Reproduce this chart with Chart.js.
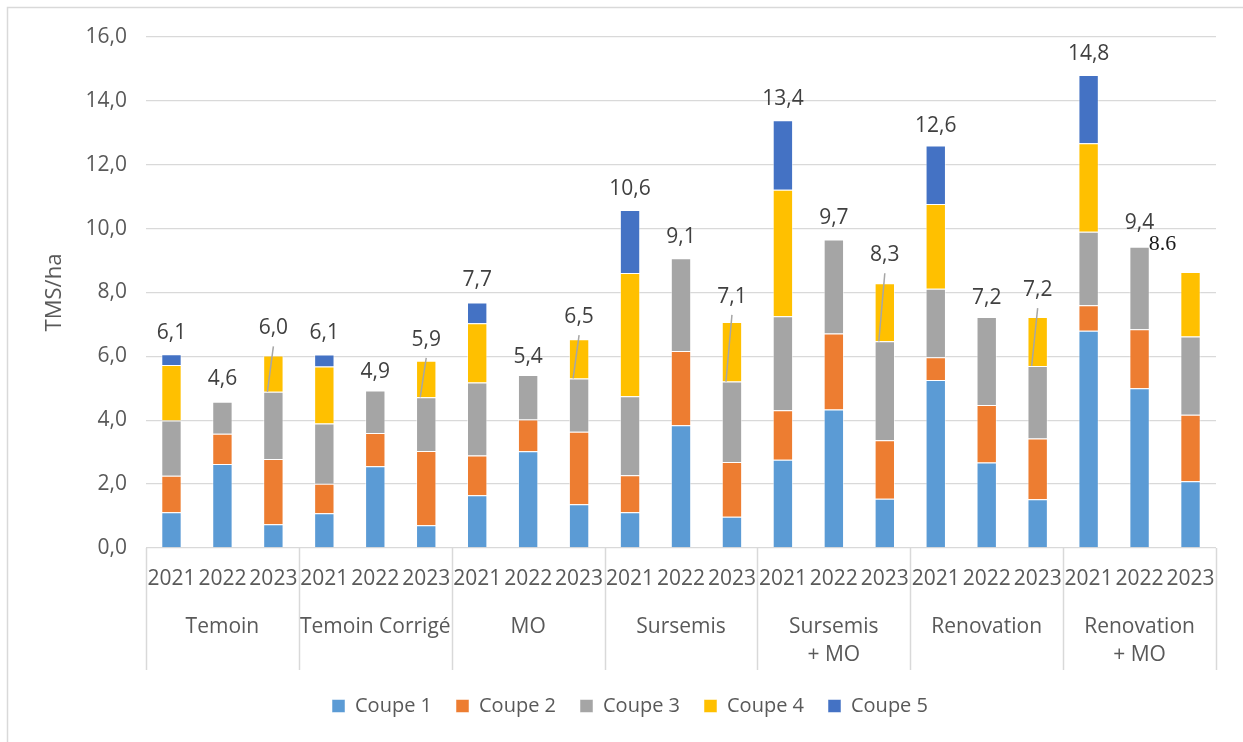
<!DOCTYPE html>
<html><head><meta charset="utf-8">
<script src="https://cdn.jsdelivr.net/npm/chart.js@4/dist/chart.umd.min.js"></script>
<style>html,body{margin:0;padding:0;background:#fff;}#wrap{width:1243px;height:742px;}</style>
</head><body><div id="wrap"><canvas id="c" width="1243" height="742"></canvas></div>
<script>
// ---- data ----
const groups = [['Temoin'], ['Temoin Corrigé'], ['MO'], ['Sursemis'], ['Sursemis', '+ MO'], ['Renovation'], ['Renovation', '+ MO']];
const years = ['2021', '2022', '2023'];
const seriesNames = ['Coupe 1', 'Coupe 2', 'Coupe 3', 'Coupe 4', 'Coupe 5'];
const coupe1 = [1.12, 2.63, 0.74, 1.09, 2.56, 0.71, 1.65, 3.03, 1.37, 1.12, 3.84, 0.98, 2.76, 4.34, 1.54, 5.26, 2.68, 1.53, 6.80, 5.00, 2.09];
const coupe2 = [1.14, 0.95, 2.05, 0.92, 1.04, 2.33, 1.25, 0.99, 2.27, 1.16, 2.33, 1.71, 1.55, 2.38, 1.83, 0.71, 1.80, 1.90, 0.80, 1.85, 2.08];
const coupe3 = [1.73, 1.00, 2.10, 1.89, 1.33, 1.68, 2.28, 1.40, 1.67, 2.47, 2.90, 2.52, 2.95, 2.94, 3.10, 2.15, 2.75, 2.27, 2.30, 2.58, 2.45];
const coupe4 = [1.74, null, 1.14, 1.78, null, 1.14, 1.86, null, 1.23, 3.86, null, 1.87, 3.96, null, 1.82, 2.65, null, 1.53, 2.77, null, 2.02];
const coupe5 = [0.34, null, null, 0.38, null, null, 0.65, null, null, 1.97, null, null, 2.17, null, null, 1.83, null, null, 2.14, null, null];
const yMin = 0, yMax = 16, yStep = 2;

// ---- label placement (layout, not data) ----
const labelLift = [21, 23, 27, 21, 19, 21, 22, 18, 22, 21, 21, 25, 21, 21, 28, 20, 19, 27, 21, 24, 28];
const leaderBars = [2, 5, 8, 11, 14, 17];
const serifLabelBar = 20;

const FONT = '"Open Sans", "Noto Sans", sans-serif';
const FS = 21;
const colors = ['#5B9BD5', '#ED7D31', '#A5A5A5', '#FFC000', '#4472C4'];
const seriesData = [coupe1, coupe2, coupe3, coupe4, coupe5];
const categories = [];
groups.forEach(() => years.forEach(y => categories.push(y)));

const datasets = seriesData.map((d, k) => ({
  label: seriesNames[k], data: d, backgroundColor: colors[k],
  borderColor: 'rgba(255,255,255,0.5)', borderWidth: 1,
  barPercentage: 0.4, categoryPercentage: 1
}));

const overlay = {
  id: 'overlay',
  beforeDraw(chart) {
    const c = chart.ctx; c.save();
    c.fillStyle = '#fff'; c.fillRect(0, 0, chart.width, chart.height);
    c.strokeStyle = '#d9d9d9'; c.lineWidth = 1.5;
    c.strokeRect(7.5, 7.5, chart.width + 20, chart.height + 20);
    c.restore();
  },
  afterLayout(chart) {
    chart.legend.left += 22; chart.legend.right += 22;
  },
  afterDraw(chart) {
    const c = chart.ctx, xs = chart.scales.x, ys = chart.scales.y, ca = chart.chartArea;
    const n = categories.length, slot = (xs.right - xs.left) / n;
    c.save();
    c.strokeStyle = '#d9d9d9'; c.lineWidth = 1.5;
    for (let g = 0; g <= groups.length; g++) {
      const x = Math.round(xs.left + g * years.length * slot) + 0.5;
      c.beginPath(); c.moveTo(x, ca.bottom); c.lineTo(x, ca.bottom + 122); c.stroke();
    }
    c.fillStyle = '#595959'; c.font = FS + 'px ' + FONT; c.textAlign = 'center'; c.textBaseline = 'middle';
    groups.forEach((lines, g) => {
      const cx = xs.left + (g * years.length + years.length / 2) * slot;
      lines.forEach((t, j) => c.fillText(t, cx, ca.bottom + 79 + j * 28));
    });
    const meta = chart.getDatasetMeta(0);
    for (let i = 0; i < n; i++) {
      let total = 0;
      seriesData.forEach(s => total += (s[i] || 0));
      const bx = meta.data[i].x;
      const ty = ys.getPixelForValue(total);
      const ly = ty - labelLift[i];
      if (leaderBars.includes(i)) {
        const c3 = (coupe1[i] || 0) + (coupe2[i] || 0) + (coupe3[i] || 0);
        c.strokeStyle = '#a6a6a6'; c.lineWidth = 1.5;
        c.beginPath(); c.moveTo(bx, ly + 18); c.lineTo(bx - 6, ys.getPixelForValue(c3)); c.stroke();
      }
      if (i === serifLabelBar) {
        c.font = '22px "Liberation Serif", "DejaVu Serif", serif'; c.fillStyle = '#1a1a1a';
        c.fillText(total.toFixed(1), bx - 28, ly);
      } else {
        c.font = FS + 'px ' + FONT; c.fillStyle = '#404040';
        c.fillText(total.toFixed(1).replace('.', ','), bx, ly);
      }
    }
    c.restore();
  }
};

new Chart(document.getElementById('c'), {
  type: 'bar',
  data: { labels: categories, datasets },
  plugins: [overlay],
  options: {
    responsive: false, animation: false, devicePixelRatio: 1,
    layout: { padding: { left: 0, right: 27, top: 37, bottom: 16 } },
    plugins: {
      legend: { position: 'bottom', labels: { font: { family: FONT, size: 20 }, color: '#595959', boxWidth: 13, boxHeight: 13, padding: 24 } },
      tooltip: { enabled: false }
    },
    scales: {
      x: {
        stacked: true, grid: { display: false, drawTicks: false }, border: { display: false },
        ticks: { font: { family: FONT, size: FS }, color: '#595959', padding: 18.4, autoSkip: false, maxRotation: 0 },
        afterFit(s) { s.height = 124; }
      },
      y: {
        stacked: true, min: yMin, max: yMax,
        ticks: { stepSize: yStep, font: { family: FONT, size: FS }, color: '#595959', padding: 19,
                 callback: v => Number(v).toFixed(1).replace('.', ',') },
        grid: { color: '#d9d9d9', lineWidth: 1.3, drawTicks: false }, border: { display: false },
        title: { display: true, text: 'TMS/ha', font: { family: FONT, size: 22 }, color: '#595959', padding: { top: 42, bottom: 0 } },
        afterFit(s) { s.width = 146; }
      }
    }
  }
});
</script></body></html>
